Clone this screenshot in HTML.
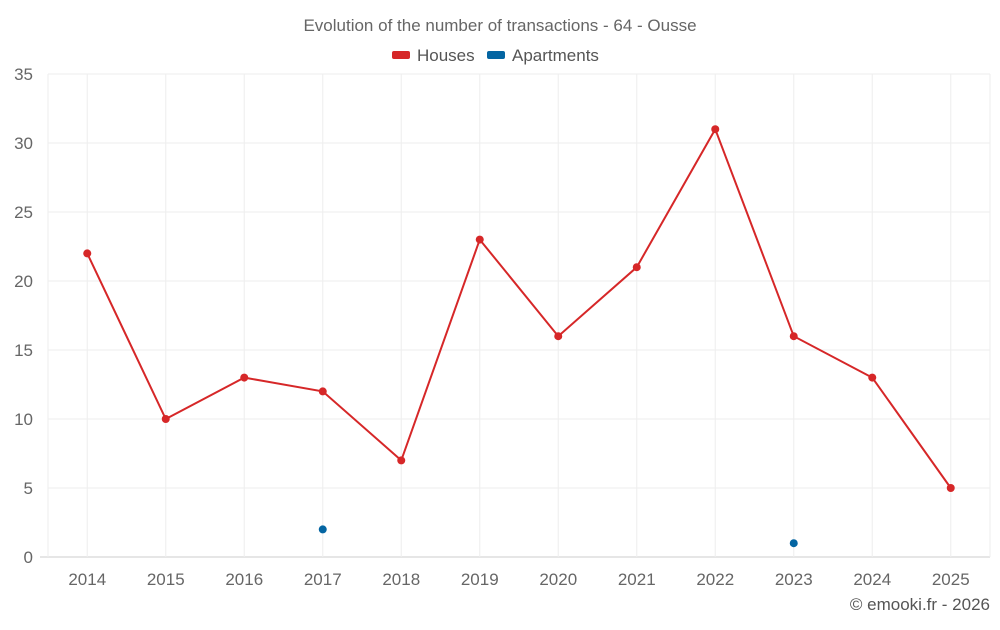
<!DOCTYPE html>
<html><head><meta charset="utf-8"><style>
body{margin:0;background:#fff;font-family:"Liberation Sans",sans-serif;}
svg text{font-family:"Liberation Sans",sans-serif;}
</style></head><body>
<svg id="chart" width="1000" height="625">
<text x="500" y="31" text-anchor="middle" font-size="17" fill="#666">Evolution of the number of transactions - 64 - Ousse</text>
<g>
<g><rect x="392" y="51" width="18" height="8" rx="2" fill="#d62728"/><text x="417" y="61" font-size="17" fill="#555">Houses</text></g>
<g><rect x="487" y="51" width="18" height="8" rx="2" fill="#0465a2"/><text x="512" y="61" font-size="17" fill="#555">Apartments</text></g>
</g>
<g id="grid"></g>
<g id="axes"></g>
<g id="series"></g>
<text x="990" y="610" text-anchor="end" font-size="17" fill="#555">© emooki.fr - 2026</text>
</svg>
<script>
const categories=["2014","2015","2016","2017","2018","2019","2020","2021","2022","2023","2024","2025"];
const houses=[22,10,13,12,7,23,16,21,31,16,13,5];
const apartments=[null,null,null,2,null,null,null,null,null,1,null,null];
const yTicks=[0,5,10,15,20,25,30,35];
const L=48,R=990,T=74,B=557,YMAX=35;
const bw=(R-L)/categories.length;
const x=i=>L+bw*(i+0.5);
const y=v=>B-(v/YMAX)*(B-T);
const NS="http://www.w3.org/2000/svg";
function mk(tag,attrs,parent){const e=document.createElementNS(NS,tag);for(const k in attrs)e.setAttribute(k,attrs[k]);parent.appendChild(e);return e;}
const grid=document.getElementById('grid'),axes=document.getElementById('axes'),series=document.getElementById('series');
yTicks.forEach(t=>{
 const l=mk('line',{x1:t===0?40:L,x2:R,y1:y(t),y2:y(t),stroke:t===0?'#ccc':'#eee','stroke-width':1},grid);
 
 
 const tx=mk('text',{x:L-15,y:y(t)+6,'text-anchor':'end','font-size':17,fill:'#666'},axes);
 tx.textContent=t;
 
 
});
[L,R].forEach(xx=>{
 const l=mk('line',{x1:xx,x2:xx,y1:T,y2:B,stroke:'#eee','stroke-width':1},grid);
 
 
});
categories.forEach((c,i)=>{
 const l=mk('line',{x1:x(i),x2:x(i),y1:T,y2:B,stroke:'#eee','stroke-width':1},grid);
 
 
 const tx=mk('text',{x:x(i),y:585,'text-anchor':'middle','font-size':17,fill:'#666'},axes);
 tx.textContent=c;
 
 
});
const pl=mk('polyline',{points:houses.map((v,i)=>x(i)+','+y(v)).join(' '),fill:'none',stroke:'#d62728','stroke-width':2},series);


houses.forEach((v,i)=>{
 const c=mk('circle',{cx:x(i),cy:y(v),r:4,fill:'#d62728'},series);
 
 
});
apartments.forEach((v,i)=>{
 if(v==null)return;
 const c=mk('circle',{cx:x(i),cy:y(v),r:4,fill:'#0465a2'},series);
 
 
});
</script>
</body></html>
